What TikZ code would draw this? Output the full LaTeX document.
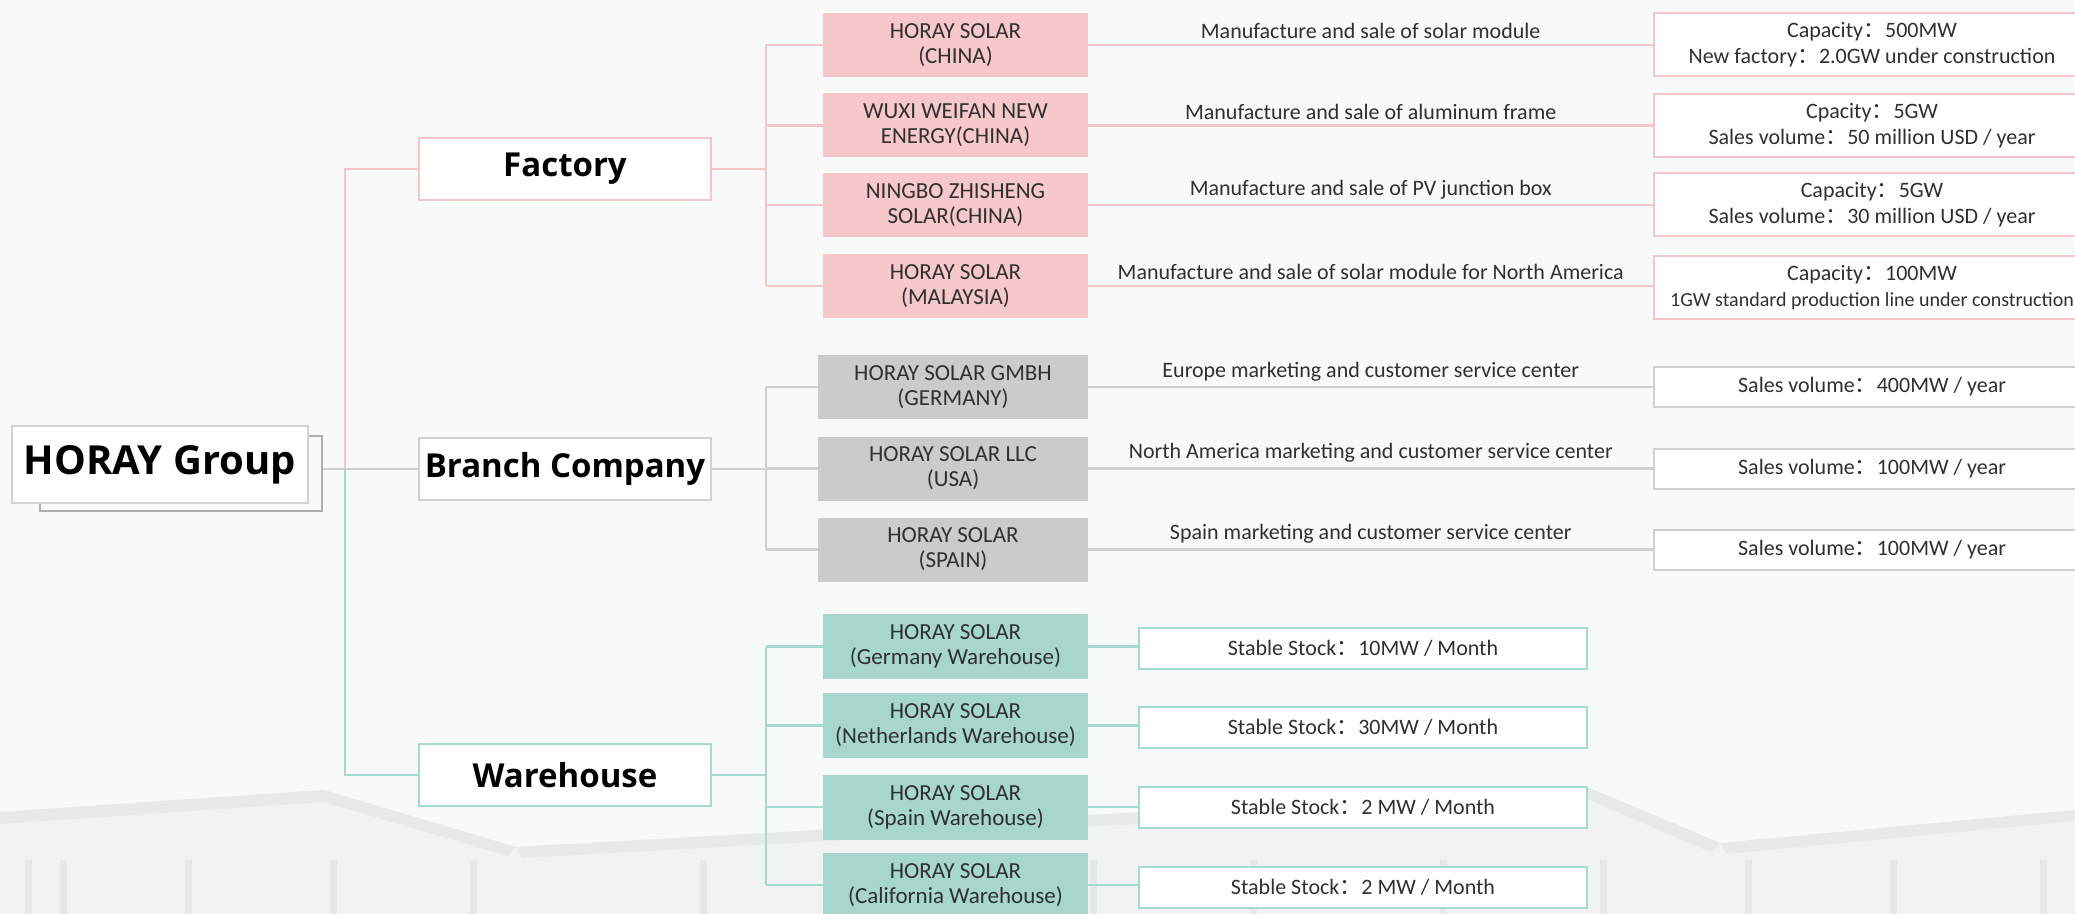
\documentclass[tikz,border=0pt]{standalone}
\usepackage{fontspec}
\setmainfont{Carlito}
\newfontfamily\headf{Open Sans}
\newfontfamily\cjkf{Noto Sans CJK SC}
\newcommand\fwc{{\cjkf ：}}
\definecolor{bgc}{HTML}{F8F9F9}
\definecolor{bldg}{HTML}{F1F2F2}
\definecolor{bldgd}{HTML}{E8EAEA}
\definecolor{mull}{HTML}{E6E8E8}
\definecolor{pinkf}{HTML}{F6C8CB}
\definecolor{pinkl}{HTML}{F5C6C9}
\definecolor{grayf}{HTML}{CBCBCB}
\definecolor{grayl}{HTML}{D0D0D0}
\definecolor{tealf}{HTML}{A6D6CC}
\definecolor{teall}{HTML}{A6DACF}
\definecolor{txt}{HTML}{303030}
\definecolor{shad}{HTML}{AFAFAF}
\definecolor{grpl}{HTML}{D2D2D2}
\begin{document}
\begin{tikzpicture}[x=0.5pt,y=-0.5pt,
  lnk/.style={line width=1.2pt},
  lone/.style={draw, line width=1.2pt, fill=white, minimum width=146pt, minimum height=31pt, inner sep=0pt, text=black, font=\headf\bfseries\fontsize{16.5}{20}\selectfont},
  ltwo/.style={minimum width=132.5pt, minimum height=32pt, inner sep=0pt, align=center, text=txt, font=\fontsize{11.5}{12.5}\selectfont},
  lthree/.style={draw, fill=white, line width=1pt, align=center, inner sep=0pt, text=txt, font=\fontsize{11}{13}\selectfont},
  desc/.style={font=\fontsize{11}{13}\selectfont, text=txt, inner sep=2.5pt}]
\useasboundingbox (0,0) rectangle (2075,914);
\clip (0,0) rectangle (2075,914);
% background (faint building)
\fill[bgc] (0,0) rectangle (2075,914);
\fill[bldg] (0,812) -- (324,790) -- (516,847) -- (1587,787) -- (1720,843) -- (2075,810) -- (2075,914) -- (0,914) -- cycle;
\fill[bldgd] (0,812) -- (324,790) -- (516,847) -- (508,856) -- (324,802) -- (0,824) -- cycle;
\fill[bldgd] (516,847) -- (1587,787) -- (1720,843) -- (1710,852) -- (1587,799) -- (522,858) -- cycle;
\fill[bldgd] (1720,843) -- (2075,810) -- (2075,821) -- (1726,854) -- cycle;
\foreach \x in {25, 60, 185, 330, 470, 700, 1090, 1250, 1440, 1600, 1745, 1890, 2040}
  \fill[mull] (\x,860) rectangle ++(7,60);
% shadow and group
\node[draw=shad, line width=1.2pt, minimum width=141pt, minimum height=37.5pt, inner sep=0pt] (gs) at (181,473.5) {};
\node[draw=grpl, line width=1.2pt, fill=white, minimum width=148pt, minimum height=38.5pt, inner sep=0pt, font=\headf\bfseries\fontsize{20}{24}\selectfont] (grp) at (160,464.5) {HORAY Group};
% level 1
\node[lone, draw=pinkl] (fac) at (565,169) {Factory};
\node[lone, draw=grayl] (bra) at (565,469) {Branch Company};
\node[lone, draw=teall] (war) at (565,775) {Warehouse};
% level 2
\node[ltwo, fill=pinkf] (p1) at (955.5,45) {HORAY SOLAR\\(CHINA)};
\node[ltwo, fill=pinkf] (p2) at (955.5,125.5) {WUXI WEIFAN NEW\\ENERGY(CHINA)};
\node[ltwo, fill=pinkf] (p3) at (955.5,205) {NINGBO ZHISHENG\\SOLAR(CHINA)};
\node[ltwo, fill=pinkf] (p4) at (955.5,286) {HORAY SOLAR\\(MALAYSIA)};
\node[ltwo, fill=grayf, minimum width=135pt] (g1) at (953,387) {HORAY SOLAR GMBH\\(GERMANY)};
\node[ltwo, fill=grayf, minimum width=135pt] (g2) at (953,468.5) {HORAY SOLAR LLC\\(USA)};
\node[ltwo, fill=grayf, minimum width=135pt] (g3) at (953,549.5) {HORAY SOLAR\\(SPAIN)};
\node[ltwo, fill=tealf, minimum height=32.5pt] (t1) at (955.5,646.5) {HORAY SOLAR\\(Germany Warehouse)};
\node[ltwo, fill=tealf, minimum height=32.5pt] (t2) at (955.5,725.5) {HORAY SOLAR\\(Netherlands Warehouse)};
\node[ltwo, fill=tealf, minimum height=32.5pt] (t3) at (955.5,807) {HORAY SOLAR\\(Spain Warehouse)};
\node[ltwo, fill=tealf, minimum height=32.5pt] (t4) at (955.5,885) {HORAY SOLAR\\(California Warehouse)};
% level 3
\node[lthree, draw=pinkl, minimum width=218pt, minimum height=31.5pt] (q1) at (1872,45) {Capacity\fwc 500MW\\New factory\fwc 2.0GW under construction};
\node[lthree, draw=pinkl, minimum width=218pt, minimum height=31.5pt] (q2) at (1872,125.5) {Cpacity\fwc 5GW\\Sales volume\fwc 50 million USD / year};
\node[lthree, draw=pinkl, minimum width=218pt, minimum height=31.5pt] (q3) at (1872,205) {Capacity\fwc 5GW\\Sales volume\fwc 30 million USD / year};
\node[lthree, draw=pinkl, minimum width=218pt, minimum height=31.5pt] (q4) at (1872,288) {Capacity\fwc 100MW\\{\fontsize{10}{13}\selectfont 1GW standard production line under construction}};
\node[lthree, draw=grayl, minimum width=218pt, minimum height=20pt] (r1) at (1872,387) {Sales volume\fwc 400MW / year};
\node[lthree, draw=grayl, minimum width=218pt, minimum height=20pt] (r2) at (1872,468.5) {Sales volume\fwc 100MW / year};
\node[lthree, draw=grayl, minimum width=218pt, minimum height=20pt] (r3) at (1872,549.5) {Sales volume\fwc 100MW / year};
\node[lthree, draw=teall, minimum width=224pt, minimum height=20.5pt] (s1) at (1363,648) {Stable Stock\fwc 10MW / Month};
\node[lthree, draw=teall, minimum width=224pt, minimum height=20.5pt] (s2) at (1363,727) {Stable Stock\fwc 30MW / Month};
\node[lthree, draw=teall, minimum width=224pt, minimum height=20.5pt] (s3) at (1363,807) {Stable Stock\fwc 2 MW / Month};
\node[lthree, draw=teall, minimum width=224pt, minimum height=20.5pt] (s4) at (1363,887) {Stable Stock\fwc 2 MW / Month};
% root connectors
\coordinate (j) at (345,469);
\draw[lnk, grayl] (gs.east |- j) -- (bra.west);
\draw[lnk, pinkl] (j) |- (fac.west);
\draw[lnk, teall] (j) |- (war.west);
% factory bus
\coordinate (fb) at (766,169);
\draw[lnk, pinkl] (fac.east) -- (fb);
\draw[lnk, pinkl] (fb |- p1.west) -- (fb |- p4.west);
\foreach \n in {p1,p2,p3,p4} \draw[lnk, pinkl] (fb |- \n.west) -- (\n.west);
% branch bus
\coordinate (bb) at (766,469);
\draw[lnk, grayl] (bra.east) -- (bb);
\draw[lnk, grayl] (bb |- g1.west) -- (bb |- g3.west);
\foreach \n in {g1,g2,g3} \draw[lnk, grayl] (bb |- \n.west) -- (\n.west);
% warehouse bus
\coordinate (wb) at (766,775);
\draw[lnk, teall] (war.east) -- (wb);
\draw[lnk, teall] (wb |- t1.west) -- (wb |- t4.west);
\foreach \n in {t1,t2,t3,t4} \draw[lnk, teall] (wb |- \n.west) -- (\n.west);
% level 2 to level 3
\draw[lnk, pinkl] (p1.east) -- node[desc, above] {Manufacture and sale of solar module} (p1.east -| q1.west);
\draw[lnk, pinkl] (p2.east) -- node[desc, above] {Manufacture and sale of aluminum frame} (p2.east -| q2.west);
\draw[lnk, pinkl] (p3.east) -- node[desc, above] {Manufacture and sale of PV junction box} (p3.east -| q3.west);
\draw[lnk, pinkl] (p4.east) -- node[desc, above] {Manufacture and sale of solar module for North America} (p4.east -| q4.west);
\draw[lnk, grayl] (g1.east) -- node[desc, above] {Europe marketing and customer service center} (g1.east -| r1.west);
\draw[lnk, grayl] (g2.east) -- node[desc, above] {North America marketing and customer service center} (g2.east -| r2.west);
\draw[lnk, grayl] (g3.east) -- node[desc, above] {Spain marketing and customer service center} (g3.east -| r3.west);
\draw[lnk, teall] (t1.east) -- (t1.east -| s1.west);
\draw[lnk, teall] (t2.east) -- (t2.east -| s2.west);
\draw[lnk, teall] (t3.east) -- (t3.east -| s3.west);
\draw[lnk, teall] (t4.east) -- (t4.east -| s4.west);
\end{tikzpicture}
\end{document}
